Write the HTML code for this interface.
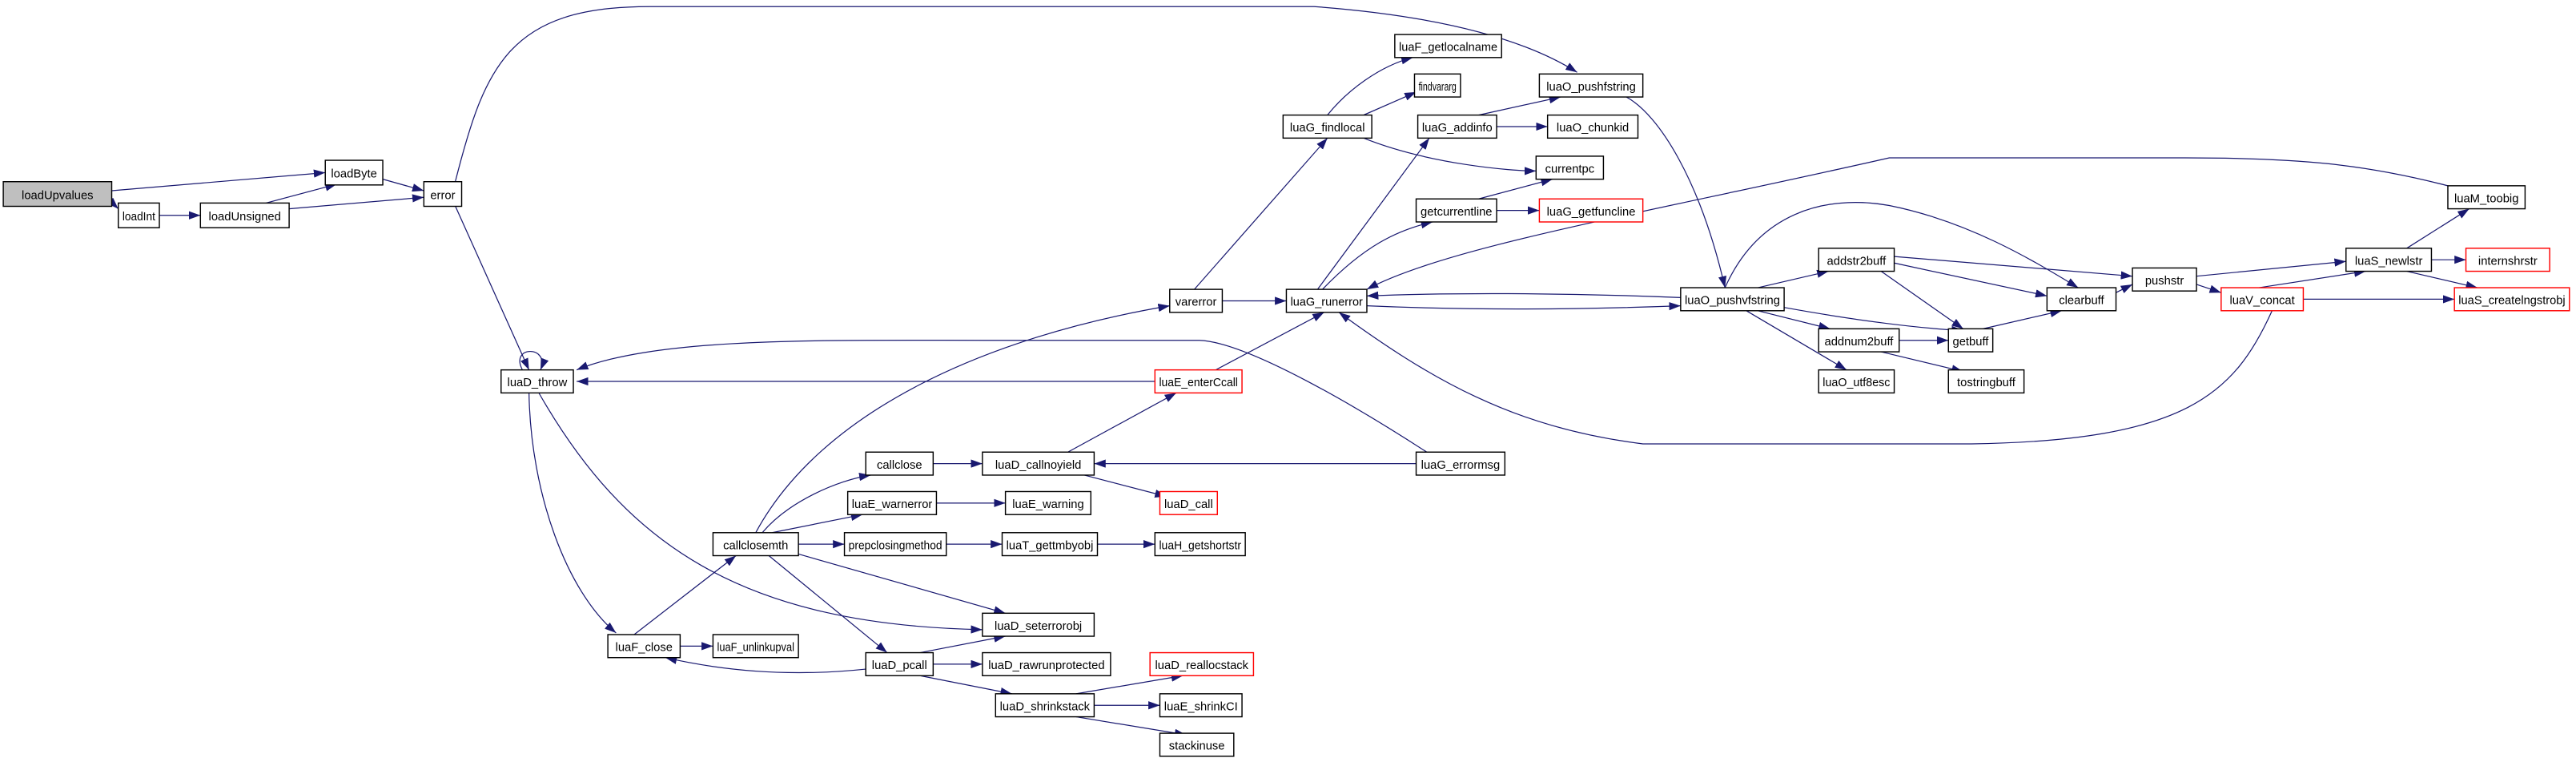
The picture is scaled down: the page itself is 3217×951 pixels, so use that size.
<!DOCTYPE html>
<html><head><meta charset="utf-8"><style>
html,body{margin:0;padding:0;background:#fff;}
svg{display:block;}
text{font-family:"Liberation Sans",sans-serif;font-size:7.2px;fill:#000;}
.e{fill:none;stroke:#191970;stroke-width:0.6;}
.n{fill:#fff;stroke:#000;stroke-width:0.7;}
.r{fill:#fff;stroke:#ff0000;stroke-width:0.7;}
.g{fill:#bfbfbf;stroke:#000;stroke-width:0.7;}
</style></head><body>
<svg id="s" width="3217" height="951" viewBox="0 0 1568 463.5" preserveAspectRatio="none" xmlns="http://www.w3.org/2000/svg">
<defs><marker id="a" markerUnits="userSpaceOnUse" markerWidth="7" markerHeight="5" refX="7" refY="2.5" orient="auto"><path d="M0,0 L7,2.5 L0,5 z" fill="#191970"/></marker></defs>
<g class="e" marker-end="url(#a)">
<path d="M68,116 L198,105"/>
<path d="M68,123 L72,127"/>
<path d="M97,131 L122,131"/>
<path d="M160,124 L205,112"/>
<path d="M176,127 L258,120"/>
<path d="M233,109 L258,116"/>
<path d="M277,111 C295,40 310,4 395,4 L800,4 C880,10 930,25 960,44"/>
<path d="M277,125 L322,225"/>
<path d="M318,225 C310,210 335,210 329,225"/>
<path d="M322,239 C323,300 345,360 375,385"/>
<path d="M328,239 C380,330 450,380 598,383"/>
<path d="M744,183 L783,183"/>
<path d="M727,176 L808,84"/>
<path d="M808,70 C820,55 840,40 860,35"/>
<path d="M830,70 L862,56"/>
<path d="M830,84 C870,100 920,104 935,104"/>
<path d="M802,176 L870,84"/>
<path d="M805,176 C830,150 850,140 872,135"/>
<path d="M832,186 C900,189 970,188 1023,186"/>
<path d="M1023,181 C950,178 880,178 832,180"/>
<path d="M1490,113 C1440,100 1400,96 1330,96 L1150,96 C1000,130 880,150 832,176"/>
<path d="M740,225 L806,190"/>
<path d="M1383,189 C1360,240 1330,268 1200,270 L1000,270 C920,260 870,230 815,190"/>
<path d="M870,276 C830,250 760,208 730,207 L600,207 C500,207 400,205 351,225"/>
<path d="M703,232 L351,232"/>
<path d="M460,324 C500,250 600,205 712,186"/>
<path d="M650,275 L716,239"/>
<path d="M660,289 L710,302"/>
<path d="M862,282 L666,282"/>
<path d="M568,282 L598,282"/>
<path d="M570,306 L612,306"/>
<path d="M576,331 L610,331"/>
<path d="M668,331 L703,331"/>
<path d="M464,324 C480,305 510,292 530,289"/>
<path d="M470,324 L525,313"/>
<path d="M486,331 L514,331"/>
<path d="M486,337 L612,373"/>
<path d="M468,338 L540,397"/>
<path d="M386,386 L448,338"/>
<path d="M414,393 L434,393"/>
<path d="M527,407 C480,412 440,408 405,400"/>
<path d="M560,397 L612,387"/>
<path d="M568,404 L598,404"/>
<path d="M560,411 L616,422"/>
<path d="M655,422 L720,411"/>
<path d="M666,429 L706,429"/>
<path d="M655,436 L722,447"/>
<path d="M900,70 L950,59"/>
<path d="M911,77 L942,77"/>
<path d="M900,121 L945,109"/>
<path d="M911,128 L937,128"/>
<path d="M990,59 C1010,70 1035,110 1050,175"/>
<path d="M1070,175 L1113,165"/>
<path d="M1050,175 C1070,130 1110,118 1150,125 C1200,135 1240,160 1265,175"/>
<path d="M1086,187 C1130,195 1170,200 1195,201"/>
<path d="M1070,189 L1114,200"/>
<path d="M1063,189 L1124,225"/>
<path d="M1153,156 L1298,168"/>
<path d="M1153,160 L1246,180"/>
<path d="M1145,165 L1195,200"/>
<path d="M1156,207 L1186,207"/>
<path d="M1145,214 L1195,226"/>
<path d="M1207,200 L1255,189"/>
<path d="M1288,178 L1298,173"/>
<path d="M1337,168 L1428,159"/>
<path d="M1337,173 L1352,178"/>
<path d="M1375,175 L1440,165"/>
<path d="M1402,182 L1494,182"/>
<path d="M1465,151 L1503,127"/>
<path d="M1480,158 L1501,158"/>
<path d="M1465,165 L1508,175"/>
</g>
<g>
<rect class="g" x="2" y="110.5" width="66" height="15"/><text x="35" y="121" text-anchor="middle">loadUpvalues</text>
<rect class="n" x="72" y="123.5" width="25" height="15"/><text x="84.5" y="134" text-anchor="middle">loadInt</text>
<rect class="n" x="122" y="123.5" width="54" height="15"/><text x="149" y="134" text-anchor="middle">loadUnsigned</text>
<rect class="n" x="198" y="97.5" width="35" height="15"/><text x="215.5" y="108" text-anchor="middle">loadByte</text>
<rect class="n" x="258" y="110.5" width="23" height="15"/><text x="269.5" y="121" text-anchor="middle">error</text>
<rect class="n" x="305" y="225" width="44" height="14"/><text x="327" y="235" text-anchor="middle">luaD_throw</text>
<rect class="n" x="712" y="176" width="32" height="14"/><text x="728" y="186" text-anchor="middle">varerror</text>
<rect class="n" x="783" y="176" width="49" height="14"/><text x="807.5" y="186" text-anchor="middle">luaG_runerror</text>
<rect class="n" x="781" y="70" width="54" height="14"/><text x="808" y="80" text-anchor="middle">luaG_findlocal</text>
<rect class="n" x="849" y="21" width="65" height="14"/><text x="881.5" y="31" text-anchor="middle">luaF_getlocalname</text>
<rect class="n" x="861" y="45" width="28" height="14"/><text x="875" y="55" text-anchor="middle">findvararg</text>
<rect class="n" x="937" y="45" width="63" height="14"/><text x="968.5" y="55" text-anchor="middle">luaO_pushfstring</text>
<rect class="n" x="863" y="70" width="48" height="14"/><text x="887" y="80" text-anchor="middle">luaG_addinfo</text>
<rect class="n" x="942" y="70" width="55" height="14"/><text x="969.5" y="80" text-anchor="middle">luaO_chunkid</text>
<rect class="n" x="935" y="95" width="41" height="14"/><text x="955.5" y="105" text-anchor="middle">currentpc</text>
<rect class="n" x="862" y="121" width="49" height="14"/><text x="886.5" y="131" text-anchor="middle">getcurrentline</text>
<rect class="r" x="937" y="121" width="63" height="14"/><text x="968.5" y="131" text-anchor="middle">luaG_getfuncline</text>
<rect class="n" x="1023" y="175" width="63" height="14"/><text x="1054.5" y="185" text-anchor="middle">luaO_pushvfstring</text>
<rect class="n" x="1107" y="151" width="46" height="14"/><text x="1130" y="161" text-anchor="middle">addstr2buff</text>
<rect class="n" x="1107" y="200" width="49" height="14"/><text x="1131.5" y="210" text-anchor="middle">addnum2buff</text>
<rect class="n" x="1107" y="225" width="46" height="14"/><text x="1130" y="235" text-anchor="middle">luaO_utf8esc</text>
<rect class="n" x="1186" y="200" width="27" height="14"/><text x="1199.5" y="210" text-anchor="middle">getbuff</text>
<rect class="n" x="1186" y="225" width="46" height="14"/><text x="1209" y="235" text-anchor="middle">tostringbuff</text>
<rect class="n" x="1246" y="175" width="42" height="14"/><text x="1267" y="185" text-anchor="middle">clearbuff</text>
<rect class="n" x="1298" y="163" width="39" height="14"/><text x="1317.5" y="173" text-anchor="middle">pushstr</text>
<rect class="r" x="1352" y="175" width="50" height="14"/><text x="1377" y="185" text-anchor="middle">luaV_concat</text>
<rect class="n" x="1428" y="151" width="52" height="14"/><text x="1454" y="161" text-anchor="middle">luaS_newlstr</text>
<rect class="n" x="1490" y="113" width="47" height="14"/><text x="1513.5" y="123" text-anchor="middle">luaM_toobig</text>
<rect class="r" x="1501" y="151" width="51" height="14"/><text x="1526.5" y="161" text-anchor="middle">internshrstr</text>
<rect class="r" x="1494" y="175" width="70" height="14"/><text x="1529" y="185" text-anchor="middle">luaS_createlngstrobj</text>
<rect class="r" x="703" y="225" width="53" height="14"/><text x="729.5" y="235" text-anchor="middle">luaE_enterCcall</text>
<rect class="n" x="862" y="275" width="54" height="14"/><text x="889" y="285" text-anchor="middle">luaG_errormsg</text>
<rect class="n" x="527" y="275" width="41" height="14"/><text x="547.5" y="285" text-anchor="middle">callclose</text>
<rect class="n" x="598" y="275" width="68" height="14"/><text x="632" y="285" text-anchor="middle">luaD_callnoyield</text>
<rect class="r" x="706" y="299" width="35" height="14"/><text x="723.5" y="309" text-anchor="middle">luaD_call</text>
<rect class="n" x="516" y="299" width="54" height="14"/><text x="543" y="309" text-anchor="middle">luaE_warnerror</text>
<rect class="n" x="612" y="299" width="52" height="14"/><text x="638" y="309" text-anchor="middle">luaE_warning</text>
<rect class="n" x="434" y="324" width="52" height="14"/><text x="460" y="334" text-anchor="middle">callclosemth</text>
<rect class="n" x="514" y="324" width="62" height="14"/><text x="545" y="334" text-anchor="middle">prepclosingmethod</text>
<rect class="n" x="610" y="324" width="58" height="14"/><text x="639" y="334" text-anchor="middle">luaT_gettmbyobj</text>
<rect class="n" x="703" y="324" width="55" height="14"/><text x="730.5" y="334" text-anchor="middle">luaH_getshortstr</text>
<rect class="n" x="598" y="373" width="68" height="14"/><text x="632" y="383" text-anchor="middle">luaD_seterrorobj</text>
<rect class="n" x="370" y="386" width="44" height="14"/><text x="392" y="396" text-anchor="middle">luaF_close</text>
<rect class="n" x="434" y="386" width="52" height="14"/><text x="460" y="396" text-anchor="middle">luaF_unlinkupval</text>
<rect class="n" x="527" y="397" width="41" height="14"/><text x="547.5" y="407" text-anchor="middle">luaD_pcall</text>
<rect class="n" x="598" y="397" width="78" height="14"/><text x="637" y="407" text-anchor="middle">luaD_rawrunprotected</text>
<rect class="r" x="700" y="397" width="63" height="14"/><text x="731.5" y="407" text-anchor="middle">luaD_reallocstack</text>
<rect class="n" x="606" y="422" width="60" height="14"/><text x="636" y="432" text-anchor="middle">luaD_shrinkstack</text>
<rect class="n" x="706" y="422" width="50" height="14"/><text x="731" y="432" text-anchor="middle">luaE_shrinkCI</text>
<rect class="n" x="706" y="446" width="45" height="14"/><text x="728.5" y="456" text-anchor="middle">stackinuse</text>
</g>
</svg>
<script>
document.querySelectorAll('#s text').forEach(function(t){
  var r=t.previousElementSibling;
  var w=parseFloat(r.getAttribute('width'))-5;
  var n=t.getComputedTextLength();
  if(n>w){t.setAttribute('textLength',w);t.setAttribute('lengthAdjust','spacingAndGlyphs');}
});
</script>
</body></html>
